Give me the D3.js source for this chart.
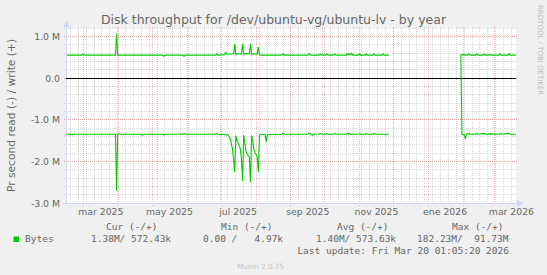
<!DOCTYPE html>
<html>
<head>
<meta charset="utf-8">
<script src="https://cdn.jsdelivr.net/npm/d3@7"></script>
<style>
  html, body { margin: 0; padding: 0; background: #F0F0F0; }
  svg { display: block; }
</style>
</head>
<body>
<svg id="chart" width="547" height="275"></svg>
<script>
"use strict";

/* values, in M bytes per second */
var writeSeries = [
    ["2025-02-14", 0.55], ["2025-02-27", 0.55], ["2025-02-28", 0.57], ["2025-03-01", 0.55],
    ["2025-03-29", 0.55], ["2025-03-30", 1.06], ["2025-03-31", 0.55],
    ["2025-05-10", 0.55], ["2025-05-11", 0.52], ["2025-05-12", 0.55],
    ["2025-05-28", 0.55], ["2025-05-29", 0.52], ["2025-05-30", 0.55],
    ["2025-06-26", 0.55], ["2025-06-27", 0.58], ["2025-06-28", 0.55],
    ["2025-07-04", 0.56], ["2025-07-05", 0.62], ["2025-07-06", 0.57], ["2025-07-08", 0.58],
    ["2025-07-09", 0.57], ["2025-07-12", 0.58], ["2025-07-13", 0.82], ["2025-07-14", 0.57],
    ["2025-07-16", 0.58], ["2025-07-19", 0.58], ["2025-07-20", 0.82], ["2025-07-21", 0.57],
    ["2025-07-23", 0.59], ["2025-07-26", 0.58], ["2025-07-27", 0.82], ["2025-07-28", 0.57],
    ["2025-07-30", 0.58], ["2025-08-02", 0.57], ["2025-08-03", 0.74], ["2025-08-04", 0.56],
    ["2025-08-05", 0.55],
    ["2025-08-24", 0.55], ["2025-08-25", 0.58], ["2025-08-26", 0.55],
    ["2025-09-16", 0.55], ["2025-09-17", 0.58], ["2025-09-18", 0.58], ["2025-09-19", 0.55],
    ["2025-09-20", 0.54], ["2025-09-21", 0.55],
    ["2025-09-26", 0.55], ["2025-09-27", 0.58], ["2025-09-28", 0.55],
    ["2025-10-02", 0.55], ["2025-10-03", 0.58], ["2025-10-04", 0.55],
    ["2025-10-09", 0.55], ["2025-10-10", 0.58], ["2025-10-11", 0.55],
    ["2025-10-20", 0.55], ["2025-10-21", 0.59], ["2025-10-22", 0.56], ["2025-10-23", 0.58],
    ["2025-10-24", 0.56], ["2025-10-25", 0.59], ["2025-10-26", 0.55],
    ["2025-10-31", 0.55], ["2025-11-01", 0.58], ["2025-11-02", 0.55],
    ["2025-11-06", 0.55], ["2025-11-07", 0.58], ["2025-11-08", 0.55],
    ["2025-11-13", 0.55], ["2025-11-14", 0.58], ["2025-11-15", 0.55],
    ["2025-11-21", 0.55], ["2025-11-22", 0.58], ["2025-11-23", 0.55],
    ["2025-11-27", 0.55], ["2025-11-28", null],
    ["2026-01-30", 0.56], ["2026-02-05", 0.55], ["2026-02-06", 0.58], ["2026-02-07", 0.55],
    ["2026-02-12", 0.55], ["2026-02-13", 0.58], ["2026-02-14", 0.55],
    ["2026-02-19", 0.55], ["2026-02-20", 0.58], ["2026-02-21", 0.55],
    ["2026-02-24", 0.55], ["2026-02-25", 0.57], ["2026-02-26", 0.55],
    ["2026-03-05", 0.55], ["2026-03-06", 0.58], ["2026-03-07", 0.55],
    ["2026-03-13", 0.55], ["2026-03-14", 0.58], ["2026-03-15", 0.55],
    ["2026-03-20", 0.55]
];

/* read is drawn below zero */
var readSeries = [
    ["2025-02-14", 1.35], ["2025-02-20", 1.36], ["2025-02-21", 1.34], ["2025-02-22", 1.35],
    ["2025-03-29", 1.35], ["2025-03-30", 2.70], ["2025-03-31", 1.35], ["2025-04-02", 1.34],
    ["2025-04-04", 1.36], ["2025-04-06", 1.35],
    ["2025-04-20", 1.35], ["2025-04-22", 1.37], ["2025-04-24", 1.35],
    ["2025-05-10", 1.35], ["2025-05-11", 1.37], ["2025-05-12", 1.35],
    ["2025-05-28", 1.35], ["2025-05-29", 1.33], ["2025-05-30", 1.35],
    ["2025-06-26", 1.35], ["2025-06-27", 1.33], ["2025-06-28", 1.35],
    ["2025-07-07", 1.36], ["2025-07-09", 1.45], ["2025-07-11", 1.70], ["2025-07-12", 1.95],
    ["2025-07-13", 2.26], ["2025-07-14", 1.38], ["2025-07-15", 1.50], ["2025-07-17", 1.62],
    ["2025-07-18", 1.70], ["2025-07-19", 1.95], ["2025-07-20", 2.47], ["2025-07-21", 1.37],
    ["2025-07-22", 1.55], ["2025-07-23", 1.75], ["2025-07-24", 1.82], ["2025-07-26", 1.90],
    ["2025-07-27", 2.50], ["2025-07-28", 1.38], ["2025-07-29", 1.50], ["2025-07-30", 1.70],
    ["2025-07-31", 1.80], ["2025-08-01", 1.83], ["2025-08-02", 1.90], ["2025-08-03", 2.26],
    ["2025-08-04", 1.36], ["2025-08-06", 1.35],
    ["2025-08-09", 1.35], ["2025-08-10", 1.53], ["2025-08-11", 1.36],
    ["2025-08-24", 1.35], ["2025-08-25", 1.32], ["2025-08-26", 1.35],
    ["2025-09-16", 1.35], ["2025-09-17", 1.32], ["2025-09-18", 1.33], ["2025-09-19", 1.36],
    ["2025-09-20", 1.38], ["2025-09-21", 1.35],
    ["2025-09-26", 1.35], ["2025-09-27", 1.33], ["2025-09-28", 1.35],
    ["2025-10-02", 1.35], ["2025-10-03", 1.33], ["2025-10-04", 1.35],
    ["2025-10-09", 1.35], ["2025-10-10", 1.33], ["2025-10-11", 1.35],
    ["2025-10-20", 1.35], ["2025-10-21", 1.32], ["2025-10-22", 1.35], ["2025-10-23", 1.33],
    ["2025-10-24", 1.35],
    ["2025-10-31", 1.35], ["2025-11-01", 1.33], ["2025-11-02", 1.35],
    ["2025-11-06", 1.35], ["2025-11-07", 1.33], ["2025-11-08", 1.35],
    ["2025-11-13", 1.35], ["2025-11-14", 1.33], ["2025-11-15", 1.35],
    ["2025-11-27", 1.35], ["2025-11-28", null],
    ["2026-01-30", -0.56], ["2026-01-31", 1.35], ["2026-02-02", 1.36], ["2026-02-03", 1.46],
    ["2026-02-04", 1.35], ["2026-02-06", 1.33], ["2026-02-07", 1.35],
    ["2026-02-12", 1.35], ["2026-02-13", 1.33], ["2026-02-14", 1.35],
    ["2026-02-20", 1.33], ["2026-02-21", 1.35], ["2026-02-25", 1.34],
    ["2026-03-05", 1.35], ["2026-03-06", 1.33], ["2026-03-07", 1.35],
    ["2026-03-14", 1.33], ["2026-03-15", 1.35], ["2026-03-20", 1.35]
];

var yTicks = [1, 0, -1, -2, -3];
var yTickLabels = ["1.0 M", "0.0", "-1.0 M", "-2.0 M", "-3.0 M"];
var xLabelMonths = ["2025-03", "2025-05", "2025-07", "2025-09", "2025-11", "2026-01", "2026-03"];
var xLabels = ["mar 2025", "may 2025", "jul 2025", "sep 2025", "nov 2025", "ene 2026", "mar 2026"];

var legendHeads = ["Cur (-/+)", "Min (-/+)", "Avg (-/+)", "Max (-/+)"];
var legendValues = ["1.38M/ 572.43k", "0.00 /   4.97k", "1.40M/ 573.63k", "182.23M/  91.73M"];
var lastUpdate = "Last update: Fri Mar 20 01:05:20 2026";

var LINE_COLOR = "#00CC00";
var FONT = "'DejaVu Sans', sans-serif";
var MONO = "'DejaVu Sans Mono', monospace";

var plot = { left: 66, right: 516, top: 28, bottom: 203 };

var parseDay = d3.timeParse("%Y-%m-%d");
var parseMonth = d3.timeParse("%Y-%m");
var endTime = new Date(2026, 2, 20, 1, 5, 20);
var startTime = d3.timeDay.offset(endTime, -400);

var x = d3.scaleTime().domain([startTime, endTime]).range([plot.left, plot.right]);
var y = d3.scaleLinear().domain([-3, 1.2]).range([plot.bottom, plot.top]);

// keep runs of spaces in the monospace legend
function keepSpaces(s) { return s.replace(/ /g, "\u00A0"); }

var svg = d3.select("#chart");

svg.append("rect").attr("width", 547).attr("height", 275).attr("fill", "#F0F0F0");
svg.append("rect")
    .attr("x", plot.left).attr("y", plot.top)
    .attr("width", plot.right - plot.left).attr("height", plot.bottom - plot.top)
    .attr("fill", "#FFFFFF");

/* grid: minor grey, major red, both dotted */
var grid = svg.append("g").attr("shape-rendering", "crispEdges").attr("stroke-width", 1);
var minorColor = "rgba(160,160,160,0.42)";
var majorColor = "rgba(230,110,110,0.5)";

grid.selectAll("line.ymin").data(y.ticks(21)).enter().append("line")
    .attr("x1", plot.left - 2).attr("x2", plot.right + 2)
    .attr("y1", function (d) { return y(d); }).attr("y2", function (d) { return y(d); })
    .attr("stroke", minorColor).attr("stroke-dasharray", "1,1");

grid.selectAll("line.xmin").data(d3.timeMonday.range(startTime, endTime)).enter().append("line")
    .attr("x1", function (d) { return x(d); }).attr("x2", function (d) { return x(d); })
    .attr("y1", plot.top - 1).attr("y2", plot.bottom + 2)
    .attr("stroke", minorColor).attr("stroke-dasharray", "1,1");

grid.selectAll("line.ymaj").data(yTicks).enter().append("line")
    .attr("x1", plot.left - 2).attr("x2", plot.right + 2)
    .attr("y1", function (d) { return y(d); }).attr("y2", function (d) { return y(d); })
    .attr("stroke", majorColor).attr("stroke-dasharray", "1,1");

grid.selectAll("line.xmaj").data(d3.timeMonth.range(startTime, endTime)).enter().append("line")
    .attr("x1", function (d) { return x(d); }).attr("x2", function (d) { return x(d); })
    .attr("y1", plot.top - 1).attr("y2", plot.bottom + 3)
    .attr("stroke", majorColor).attr("stroke-dasharray", "1,1");

/* axes */
var axisColor = "#CFD6F8";
grid.append("line")
    .attr("x1", plot.left - 3).attr("x2", plot.right + 2)
    .attr("y1", plot.bottom).attr("y2", plot.bottom)
    .attr("stroke", axisColor);
grid.append("line")
    .attr("x1", plot.left).attr("x2", plot.left)
    .attr("y1", plot.bottom + 3).attr("y2", plot.top - 2)
    .attr("stroke", axisColor);
svg.append("path")
    .attr("d", "M" + (plot.left - 3) + "," + (plot.top - 1) + "L" + (plot.left + 0.5) + "," + (plot.top - 7) +
        "L" + (plot.left + 4) + "," + (plot.top - 1) + "Z")
    .attr("fill", axisColor);
svg.append("path")
    .attr("d", "M" + (plot.right + 1) + "," + (plot.bottom - 3.5) + "L" + (plot.right + 7) + "," + (plot.bottom + 0.5) +
        "L" + (plot.right + 1) + "," + (plot.bottom + 4) + "Z")
    .attr("fill", axisColor);

/* data lines */
function makeLine(sign) {
    return d3.line()
        .defined(function (d) { return d[1] !== null; })
        .x(function (d) { return x(parseDay(d[0])); })
        .y(function (d) { return y(sign * d[1]); });
}

svg.append("path").datum(writeSeries)
    .attr("d", makeLine(1))
    .attr("fill", "none").attr("stroke", LINE_COLOR).attr("stroke-width", 1.1);
svg.append("path").datum(readSeries)
    .attr("d", makeLine(-1))
    .attr("fill", "none").attr("stroke", LINE_COLOR).attr("stroke-width", 1.1);

/* zero line */
grid.append("line")
    .attr("x1", plot.left).attr("x2", plot.right)
    .attr("y1", y(0)).attr("y2", y(0))
    .attr("stroke", "#000000");

/* texts */
svg.append("text")
    .attr("x", 273.5).attr("y", 23.5)
    .attr("text-anchor", "middle")
    .attr("font-family", FONT).attr("font-size", 12.5).attr("fill", "#666666")
    .text("Disk throughput for /dev/ubuntu-vg/ubuntu-lv - by year");

svg.append("text")
    .attr("transform", "translate(15," + ((plot.top + plot.bottom) / 2) + ") rotate(-90)")
    .attr("text-anchor", "middle")
    .attr("font-family", FONT).attr("font-size", 10.7).attr("fill", "#666666")
    .text("Pr second read (-) / write (+)");

svg.append("text")
    .attr("transform", "translate(538,5) rotate(90)")
    .attr("font-family", FONT).attr("font-size", 7).attr("fill", "#BDBDBD")
    .text("RRDTOOL / TOBI OETIKER");

svg.selectAll("text.ylab").data(yTicks).enter().append("text")
    .attr("x", plot.left - 6)
    .attr("y", function (d) { return y(d) + 3.5; })
    .attr("text-anchor", "end")
    .attr("font-family", FONT).attr("font-size", 9.3).attr("fill", "#666666")
    .text(function (d, i) { return yTickLabels[i]; });

svg.selectAll("text.xlab").data(xLabelMonths).enter().append("text")
    .attr("x", function (d) { return x(d3.timeDay.offset(parseMonth(d), 15)); })
    .attr("y", 215)
    .attr("text-anchor", "middle")
    .attr("font-family", FONT).attr("font-size", 9.3).attr("fill", "#666666")
    .text(function (d, i) { return xLabels[i]; });

/* legend */
var headX = [106, 221, 337, 452];
var valueX = [91, 203, 316, 417];
var legend = svg.append("g")
    .attr("font-family", MONO).attr("font-size", 9.5).attr("fill", "#666666");

legend.selectAll("text.head").data(legendHeads).enter().append("text")
    .attr("x", function (d, i) { return headX[i]; }).attr("y", 230)
    .text(function (d) { return keepSpaces(d); });

svg.append("rect")
    .attr("x", 13.5).attr("y", 236.5).attr("width", 5.5).attr("height", 5.5)
    .attr("fill", LINE_COLOR);
legend.append("text").attr("x", 25).attr("y", 242).text("Bytes");

legend.selectAll("text.val").data(legendValues).enter().append("text")
    .attr("x", function (d, i) { return valueX[i]; }).attr("y", 242)
    .text(function (d) { return keepSpaces(d); });

legend.append("text").attr("x", 509).attr("y", 254)
    .attr("text-anchor", "end")
    .text(keepSpaces(lastUpdate));

svg.append("text")
    .attr("x", 260.5).attr("y", 269)
    .attr("text-anchor", "middle")
    .attr("font-family", FONT).attr("font-size", 7.2).attr("fill", "#C0C0C0")
    .text("Munin 2.0.75");
</script>
</body>
</html>
